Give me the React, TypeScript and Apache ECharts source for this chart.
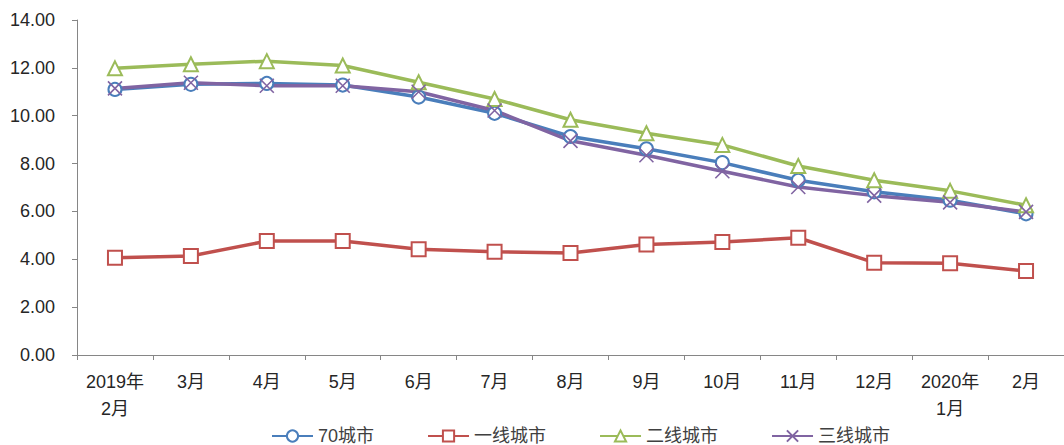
import React, { useEffect, useRef } from "react";
import * as echarts from "echarts";

const categories = [
  "2019年\n2月", "3月", "4月", "5月", "6月", "7月", "8月",
  "9月", "10月", "11月", "12月", "2020年\n1月", "2月",
];
const city70 = [11.1, 11.31, 11.35, 11.28, 10.78, 10.1, 9.13, 8.62, 8.04, 7.3, 6.82, 6.47, 5.9];
const tier1 = [4.06, 4.14, 4.76, 4.76, 4.42, 4.32, 4.26, 4.62, 4.72, 4.9, 3.86, 3.83, 3.51];
const tier2 = [11.98, 12.15, 12.28, 12.1, 11.4, 10.7, 9.83, 9.27, 8.78, 7.9, 7.3, 6.86, 6.26];
const tier3 = [11.14, 11.38, 11.25, 11.25, 11.0, 10.22, 8.95, 8.35, 7.68, 7.02, 6.66, 6.38, 5.98];
const seriesNames = ["70城市", "一线城市", "二线城市", "三线城市"];
const yTicks = { min: 0, max: 14, interval: 2 };

const FONT = "'Liberation Sans', 'Noto Sans CJK SC', sans-serif";

export default function App() {
  const ref = useRef<HTMLDivElement>(null);
  useEffect(() => {
    if (!ref.current) return;
    const chart = echarts.init(ref.current, undefined, { renderer: "svg" });
    const mk = (name: string, data: number[], color: string, symbol: string, size: number) => ({
      name,
      type: "line",
      data,
      symbol,
      symbolSize: size,
      showAllSymbol: true,
      lineStyle: { color, width: 3.5 },
      itemStyle: { color, borderColor: color, borderWidth: 1.6 },
      emphasis: { disabled: true },
    });
    chart.setOption({
      animation: false,
      backgroundColor: "#ffffff",
      textStyle: { fontFamily: FONT },
      grid: { left: 77, top: 20, width: 991, height: 335, containLabel: false },
      legend: {
        left: 266,
        top: 421,
        itemWidth: 41,
        itemHeight: 14,
        itemGap: 53,
        data: seriesNames,
        textStyle: { fontSize: 18, lineHeight: 20, color: "#404040", fontFamily: FONT },
      },
      xAxis: {
        type: "category",
        data: categories,
        boundaryGap: true,
        axisLine: { show: true, lineStyle: { color: "#868686", width: 1 } },
        axisTick: { show: true, length: 5, interval: 0, lineStyle: { color: "#868686" } },
        axisLabel: {
          interval: 0,
          fontSize: 18,
          color: "#262626",
          margin: 13,
          lineHeight: 27,
          fontFamily: FONT,
        },
        splitLine: { show: false },
      },
      yAxis: {
        type: "value",
        min: yTicks.min,
        max: yTicks.max,
        interval: yTicks.interval,
        axisLine: { show: true, lineStyle: { color: "#868686", width: 1 } },
        axisTick: { show: true, length: 5, lineStyle: { color: "#868686" } },
        axisLabel: {
          fontSize: 18,
          color: "#262626",
          margin: 22,
          fontFamily: FONT,
          formatter: (v: number) => v.toFixed(2),
        },
        splitLine: { show: false },
      },
      series: [
        mk(seriesNames[0], city70, "#4A7EBB", "emptyCircle", 13),
        mk(seriesNames[1], tier1, "#C0504D", "emptyRect", 14),
        mk(seriesNames[2], tier2, "#9BBB59", "emptyTriangle", 14),
        mk(seriesNames[3], tier3, "#8064A2", "path://M0,0L14,14M14,0L0,14", 14),
      ],
    });
    return () => chart.dispose();
  }, []);
  return (
    <div
      ref={ref}
      style={{ position: "fixed", left: 0, top: 0, width: 1064, height: 445 }}
    />
  );
}
